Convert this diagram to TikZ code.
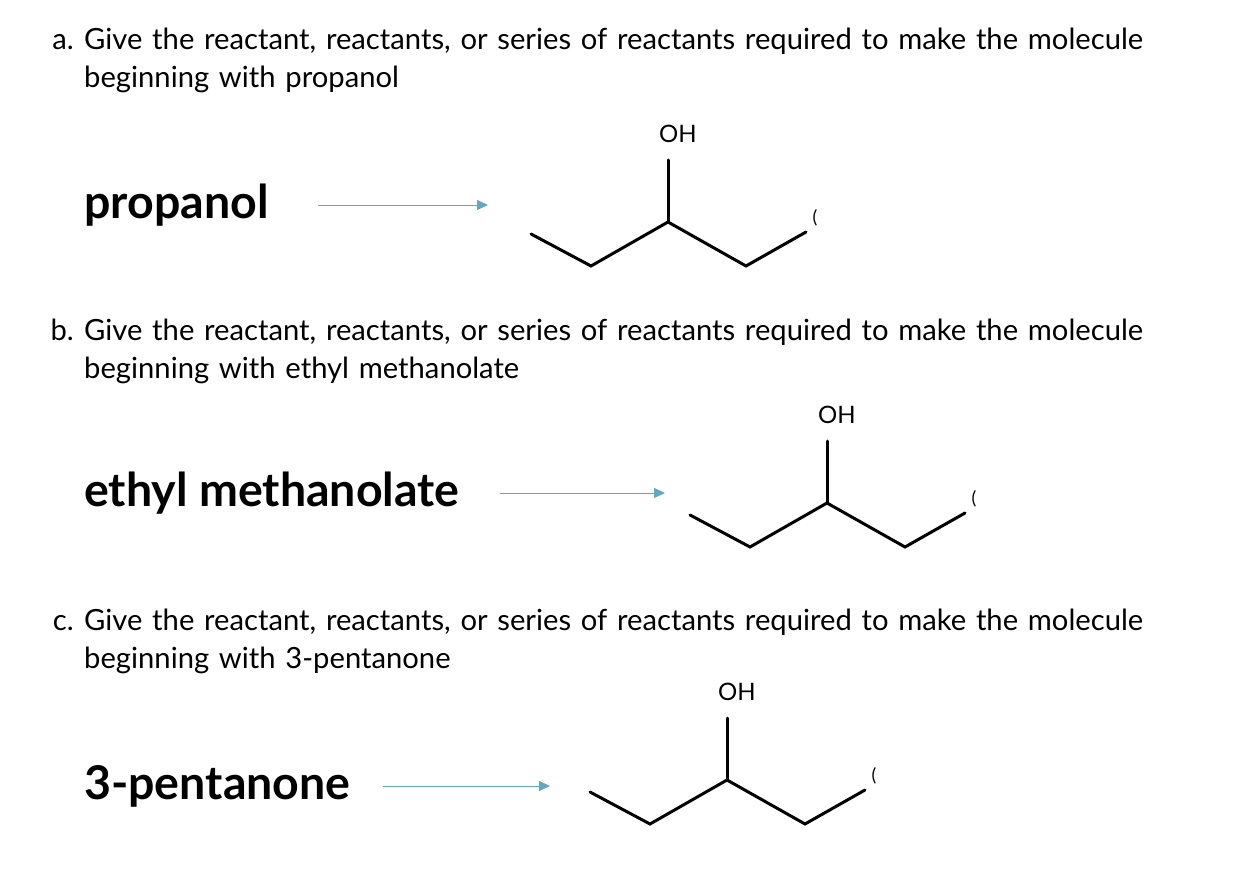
\documentclass[tikz,border=0pt]{standalone}
\usepackage{fontspec}
\setmainfont{Lato}
\usetikzlibrary{arrows.meta}
\definecolor{arrowteal}{HTML}{5FA8BF}
\tikzset{
  question/.style={anchor=base west,align=left,font=\fontsize{29.2}{38}\selectfont,inner sep=0pt,text width=1150pt},
  qmark/.style={anchor=base east,font=\fontsize{29.2}{38}\selectfont,inner sep=0pt},
  reactant/.style={anchor=west,font=\fontsize{46.5}{48}\selectfont\bfseries,inner sep=0pt},
  rxnarrow/.style={draw=arrowteal,line width=0.8pt,-{Triangle[length=11pt,width=10pt]}},
  bond/.style={line width=3pt,line cap=round},
  ohlabel/.style={font=\fontsize{24}{26}\selectfont,inner sep=0pt},
  tick/.style={font=\fontsize{18}{20}\selectfont,inner sep=0pt},
  pics/alcohol/.style={code={
    \coordinate (-c1) at (-137,12);
    \coordinate (-c2) at (-77,44);
    \coordinate (-c3) at (0,0);
    \coordinate (-c4) at (78,44);
    \coordinate (-c5) at (138,10);
    \coordinate (-o) at (0,-62);
    \draw[bond] (-c1) -- (-c2) -- (-c3) -- (-c4) -- (-c5);
    \draw[bond] (-c3) -- (-o);
    \node[ohlabel] (-oh) at (10,-88) {OH};
    \node[tick] (-tk) at (147,-4) {(};
  }}
}
\begin{document}
\begin{tikzpicture}[x=1pt,y=-1pt]
\useasboundingbox (0,0) rectangle (1238,874);
% part a
\node[question] (qa) at (84,50) {Give the reactant, reactants, or series of reactants required to make the molecule\\beginning with propanol};
\node[qmark] (la) at (74,50) {a.};
\node[reactant] (ra) at (84,205) {propanol};
\draw[rxnarrow] (318,205) -- (488,205);
\pic (ma) at (668,222) {alcohol};
% part b
\node[question] (qb) at (84,340) {Give the reactant, reactants, or series of reactants required to make the molecule\\beginning with ethyl methanolate};
\node[qmark] (lb) at (74,340) {b.};
\node[reactant] (rb) at (84,493) {ethyl methanolate};
\draw[rxnarrow] (500,493) -- (665,493);
\pic (mb) at (827,503) {alcohol};
% part c
\node[question] (qc) at (84,630) {Give the reactant, reactants, or series of reactants required to make the molecule\\beginning with 3-pentanone};
\node[qmark] (lc) at (74,630) {c.};
\node[reactant] (rc) at (84,786) {3-pentanone};
\draw[rxnarrow] (383,786) -- (550,786);
\pic (mc) at (727,780) {alcohol};
\end{tikzpicture}
\end{document}
